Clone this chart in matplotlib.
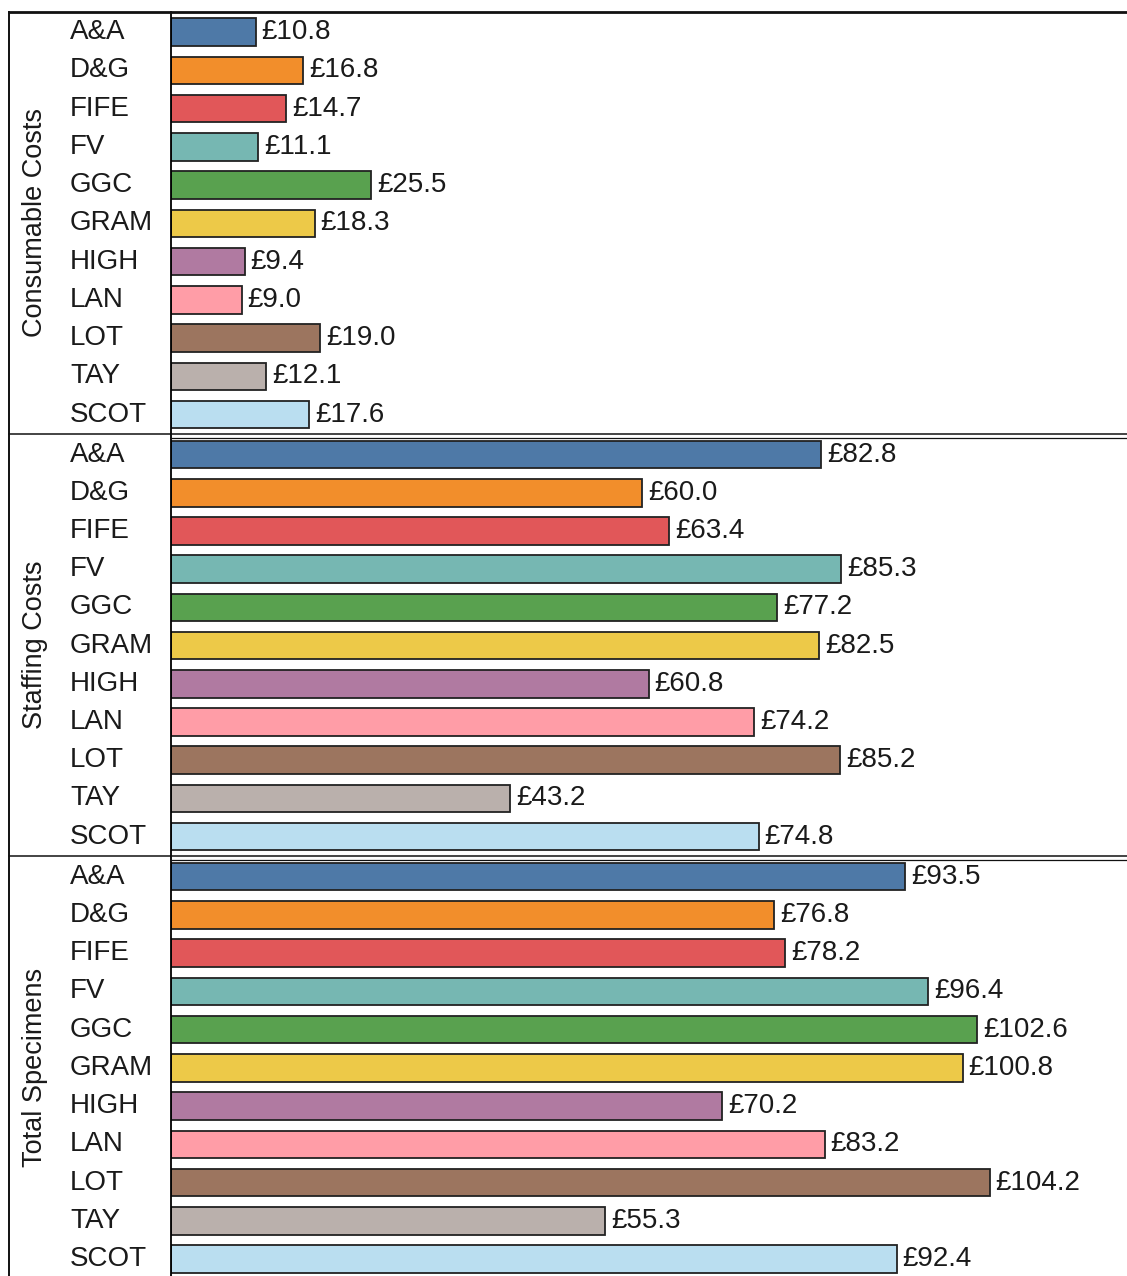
import matplotlib
matplotlib.use('Agg')
import matplotlib.pyplot as plt
from matplotlib.lines import Line2D
from matplotlib.transforms import blended_transform_factory

plt.rcParams['font.family'] = ['Liberation Sans', 'DejaVu Sans']

boards = ['A&A', 'D&G', 'FIFE', 'FV', 'GGC', 'GRAM', 'HIGH', 'LAN', 'LOT', 'TAY', 'SCOT']
groups = ['Consumable Costs', 'Staffing Costs', 'Total Specimens']
consumable = [10.8, 16.8, 14.7, 11.1, 25.5, 18.3, 9.4, 9.0, 19.0, 12.1, 17.6]
staffing = [82.8, 60.0, 63.4, 85.3, 77.2, 82.5, 60.8, 74.2, 85.2, 43.2, 74.8]
total = [93.5, 76.8, 78.2, 96.4, 102.6, 100.8, 70.2, 83.2, 104.2, 55.3, 92.4]
colours = ['#4e79a7', '#f28e2b', '#e15759', '#76b7b2', '#59a14f', '#edc948',
           '#b07aa1', '#ff9da7', '#9c755f', '#bab0ac', '#badef0']

W, H = 1127, 1276
fig = plt.figure(figsize=(W / 100, H / 100), dpi=100)

def fx(px):
    return px / W

def fy(py):
    return 1 - py / H

# panel extents in pixels (top, bottom)
panels = [(11.5, 434), (434, 856), (856, 1278.5)]
x0 = 171
tc = '#1a1a1a'

for (top, bot), name, vals in zip(panels, groups, [consumable, staffing, total]):
    ax = fig.add_axes([fx(x0), fy(bot), 1 - fx(x0), (bot - top) / H])
    ax.barh(range(len(boards)), vals, height=0.72, color=colours,
            edgecolor='#222222', linewidth=1.3)
    ax.set_xlim(0, 121.7)
    ax.set_ylim(10.51, -0.54)
    for s in ['top', 'right', 'bottom']:
        ax.spines[s].set_visible(False)
    ax.spines['left'].set_linewidth(1.3)
    ax.set_xticks([])
    ax.set_yticks([])
    for i, v in enumerate(vals):
        ax.text(v + 0.75, i, '£%.1f' % v, va='center', ha='left',
                fontsize=20, color=tc)
    trans = blended_transform_factory(fig.transFigure, ax.transData)
    for i, b in enumerate(boards):
        ax.text(fx(70), i, b, transform=trans, va='center', ha='left',
                fontsize=20, color=tc, clip_on=False)
    fig.text(fx(35), fy((top + bot) / 2), name, rotation=90, va='center',
             ha='center', fontsize=19.5, color=tc)

# outer frame and separators
lines = [
    ([9, W], [11.5, 11.5], 2.0),
    ([9, 9], [11.5, H], 1.4),
    ([9, W], [434, 434], 1.1),
    ([x0, W], [437.5, 437.5], 0.9),
    ([9, W], [856, 856], 1.1),
    ([x0, W], [859.5, 859.5], 0.9),
]
for xs, ys, lw in lines:
    fig.add_artist(Line2D([fx(x) for x in xs], [fy(y) for y in ys],
                          color='#111111', linewidth=lw,
                          transform=fig.transFigure))

fig.savefig('out.png', dpi=100)
